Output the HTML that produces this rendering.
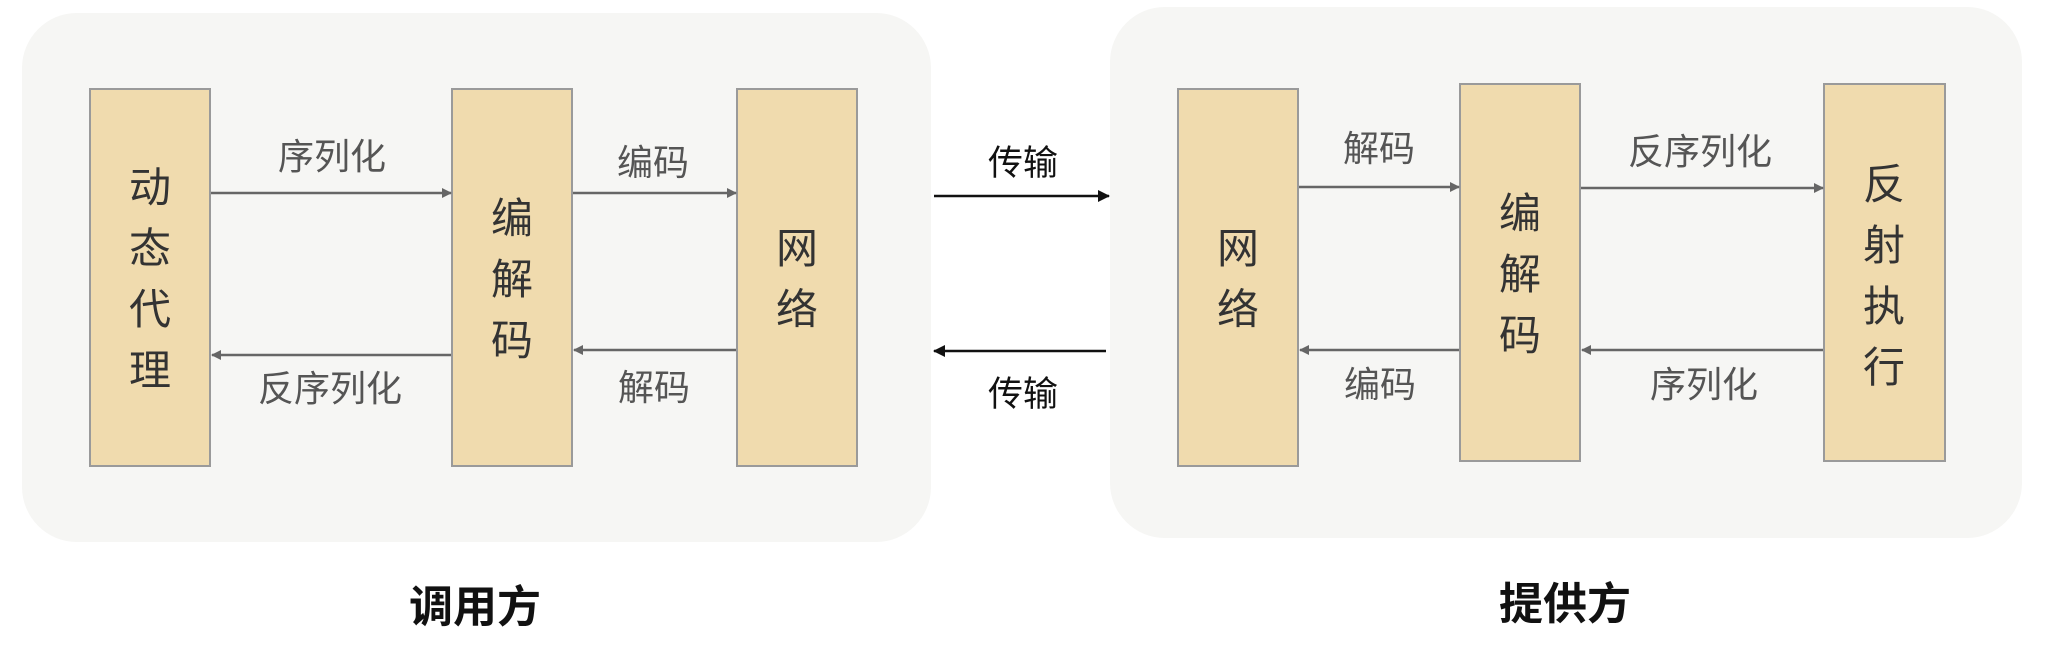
<!DOCTYPE html>
<html><head><meta charset="utf-8"><style>
html,body{margin:0;padding:0;background:#fff;}
svg{display:block}
text{font-family:"Liberation Sans","Noto Sans CJK SC",sans-serif;}
</style></head><body>
<svg width="2048" height="662" viewBox="0 0 2048 662" xmlns="http://www.w3.org/2000/svg">
<defs>
<marker id="g" markerWidth="10" markerHeight="10" refX="9" refY="5" orient="auto" markerUnits="userSpaceOnUse"><path d="M0,0 L10,5 L0,10 z" fill="#666"/></marker>
<marker id="k" markerWidth="12" markerHeight="12" refX="11" refY="6" orient="auto" markerUnits="userSpaceOnUse"><path d="M0,0 L12,6 L0,12 z" fill="#111"/></marker>
</defs>
<rect x="22" y="13" width="909" height="529" rx="55" fill="#f6f6f4"/>
<rect x="1110" y="7" width="912" height="531" rx="55" fill="#f6f6f4"/>
<g fill="#f0dbae" stroke="#9a9a9a" stroke-width="2">
<rect x="90" y="89" width="120" height="377"/>
<rect x="452" y="89" width="120" height="377"/>
<rect x="737" y="89" width="120" height="377"/>
<rect x="1178" y="89" width="120" height="377"/>
<rect x="1460" y="84" width="120" height="377"/>
<rect x="1824" y="84" width="121" height="377"/>
</g>
<g font-size="42" fill="#333" text-anchor="middle">
<text x="150" y="202">动</text><text x="150" y="263">态</text><text x="150" y="324">代</text><text x="150" y="385">理</text>
<text x="512" y="233">编</text><text x="512" y="294">解</text><text x="512" y="355">码</text>
<text x="797" y="263">网</text><text x="797" y="324">络</text>
<text x="1238" y="263">网</text><text x="1238" y="324">络</text>
<text x="1520" y="228">编</text><text x="1520" y="289">解</text><text x="1520" y="350">码</text>
<text x="1884" y="199">反</text><text x="1884" y="260">射</text><text x="1884" y="321">执</text><text x="1884" y="382">行</text>
</g>
<g stroke="#666" stroke-width="2.5">
<line x1="211" y1="193" x2="451" y2="193" marker-end="url(#g)"/>
<line x1="451" y1="355" x2="212" y2="355" marker-end="url(#g)"/>
<line x1="573" y1="193" x2="736" y2="193" marker-end="url(#g)"/>
<line x1="736" y1="350" x2="574" y2="350" marker-end="url(#g)"/>
<line x1="1299" y1="187" x2="1459" y2="187" marker-end="url(#g)"/>
<line x1="1459" y1="350" x2="1300" y2="350" marker-end="url(#g)"/>
<line x1="1581" y1="188" x2="1823" y2="188" marker-end="url(#g)"/>
<line x1="1823" y1="350" x2="1582" y2="350" marker-end="url(#g)"/>
</g>
<g stroke="#111" stroke-width="2.5">
<line x1="934" y1="196" x2="1109" y2="196" marker-end="url(#k)"/>
<line x1="1106" y1="351" x2="934" y2="351" marker-end="url(#k)"/>
</g>
<g font-size="36" fill="#555" text-anchor="middle">
<text x="332" y="169">序列化</text>
<text x="330" y="401">反序列化</text>
<text x="653" y="175">编码</text>
<text x="654" y="400">解码</text>
<text x="1379" y="161">解码</text>
<text x="1700" y="164">反序列化</text>
<text x="1380" y="397">编码</text>
<text x="1704" y="397">序列化</text>
</g>
<g font-size="35" fill="#111" text-anchor="middle">
<text x="1023" y="175">传输</text>
<text x="1023" y="406">传输</text>
</g>
<g font-size="44" font-weight="bold" fill="#111" text-anchor="middle">
<text x="475" y="622">调用方</text>
<text x="1565" y="619">提供方</text>
</g>
</svg>
</body></html>
